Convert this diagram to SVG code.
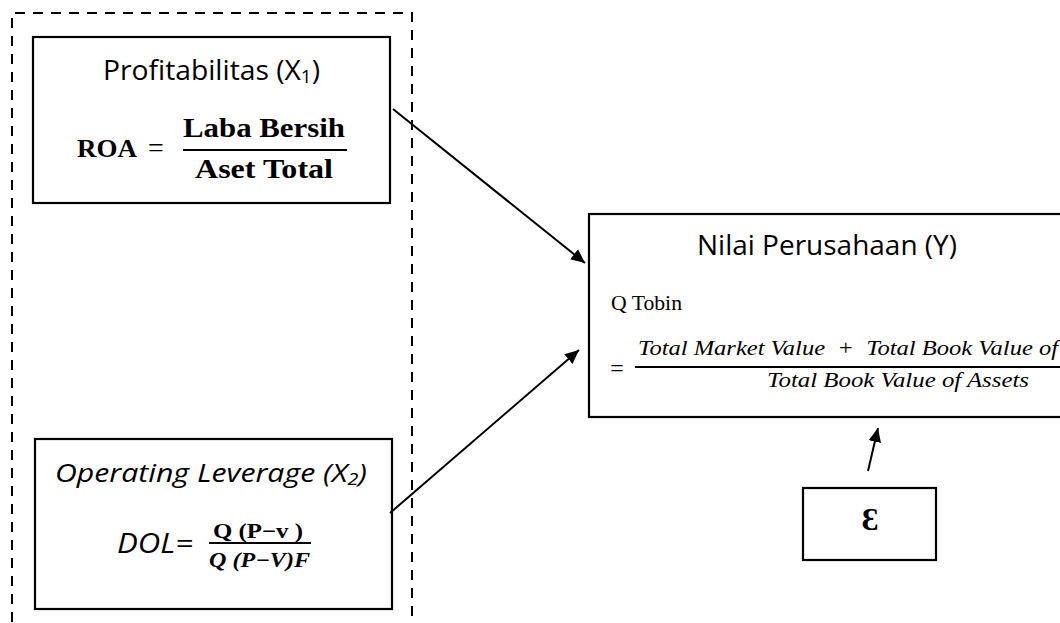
<svg xmlns="http://www.w3.org/2000/svg" width="1060" height="623" viewBox="0 0 1060 623">
<defs>
<style>
.box{fill:#fff;stroke:#000;stroke-width:2.2}
.sans{font-family:"Open Sans","Liberation Sans",sans-serif;fill:#000}
.serif{font-family:"Liberation Serif","DejaVu Serif",serif;fill:#000}
.conn{stroke:#000;stroke-width:2;fill:none}
</style>
<marker id="ahb" viewBox="0 0 10 10" refX="10" refY="5" markerWidth="14" markerHeight="14" markerUnits="userSpaceOnUse" orient="auto">
<path d="M0,0.5 L10,5 L0,9.5 Z" fill="#000"/>
</marker>
</defs>
<rect width="1060" height="623" fill="#fff"/>
<g id="group-independent">
<path d="M12,640 L12,13 L412,13 L412,640" fill="none" stroke="#000" stroke-width="2" stroke-dasharray="10,8"/>
</g>
<g id="node-x1">
<rect class="box" x="33" y="37" width="357" height="166"/>
<text class="sans" x="103" y="80" font-size="27" textLength="217" lengthAdjust="spacingAndGlyphs">Profitabilitas (X<tspan font-size="18" dy="3">1</tspan><tspan dy="-3">)</tspan></text>
<text class="serif" x="77" y="157" font-size="26" font-weight="bold" textLength="60" lengthAdjust="spacingAndGlyphs">ROA</text>
<text class="serif" x="156" y="157" font-size="28" text-anchor="middle">=</text>
<line x1="183" y1="150" x2="347" y2="150" stroke="#000" stroke-width="2"/>
<text class="serif" x="183" y="137" font-size="27" font-weight="bold" textLength="162" lengthAdjust="spacingAndGlyphs">Laba Bersih</text>
<text class="serif" x="195" y="178" font-size="27" font-weight="bold" textLength="138" lengthAdjust="spacingAndGlyphs">Aset Total</text>
</g>
<g id="node-x2">
<rect class="box" x="35" y="439" width="357" height="170"/>
<text class="sans" x="55" y="482" font-size="26" font-style="italic" textLength="312" lengthAdjust="spacingAndGlyphs">Operating Leverage (X<tspan font-size="17" dy="3">2</tspan><tspan dy="-3">)</tspan></text>
<text class="sans" x="117" y="553" font-size="27" font-style="italic" textLength="76" lengthAdjust="spacingAndGlyphs">DOL=</text>
<line x1="209" y1="543" x2="311" y2="543" stroke="#000" stroke-width="2"/>
<text class="serif" x="213" y="538" font-size="21" font-weight="bold" textLength="90" lengthAdjust="spacingAndGlyphs">Q (P−v )</text>
<text class="serif" x="209" y="567" font-size="21" font-weight="bold" font-style="italic" textLength="101" lengthAdjust="spacingAndGlyphs">Q (P−V)F</text>
</g>
<g id="node-y">
<rect class="box" x="589" y="214" width="490" height="203"/>
<text class="sans" x="697" y="255" font-size="27" textLength="260" lengthAdjust="spacingAndGlyphs">Nilai Perusahaan (Y)</text>
<text class="serif" x="611" y="310" font-size="21" textLength="71" lengthAdjust="spacingAndGlyphs">Q Tobin</text>
<text class="serif" x="617" y="376" font-size="24" text-anchor="middle">=</text>
<line x1="635" y1="367" x2="1062" y2="367" stroke="#000" stroke-width="2"/>
<text class="serif" x="638" y="355" font-size="21" font-style="italic" textLength="420" lengthAdjust="spacingAndGlyphs" xml:space="preserve">Total Market Value  +  Total Book Value of</text>
<text class="serif" x="767" y="387" font-size="21" font-style="italic" textLength="262" lengthAdjust="spacingAndGlyphs">Total Book Value of  Assets</text>
</g>
<g id="node-e">
<rect class="box" x="803" y="488" width="133" height="72"/>
<text class="serif" x="870" y="530" font-size="32" font-weight="bold" text-anchor="middle">Ɛ</text>
</g>
<g id="connectors">
<line class="conn" x1="393" y1="109" x2="585" y2="263" marker-end="url(#ahb)"/>
<line class="conn" x1="390" y1="513" x2="579" y2="350" marker-end="url(#ahb)"/>
<line class="conn" x1="868" y1="471" x2="878" y2="428" marker-end="url(#ahb)"/>
</g>
</svg>
